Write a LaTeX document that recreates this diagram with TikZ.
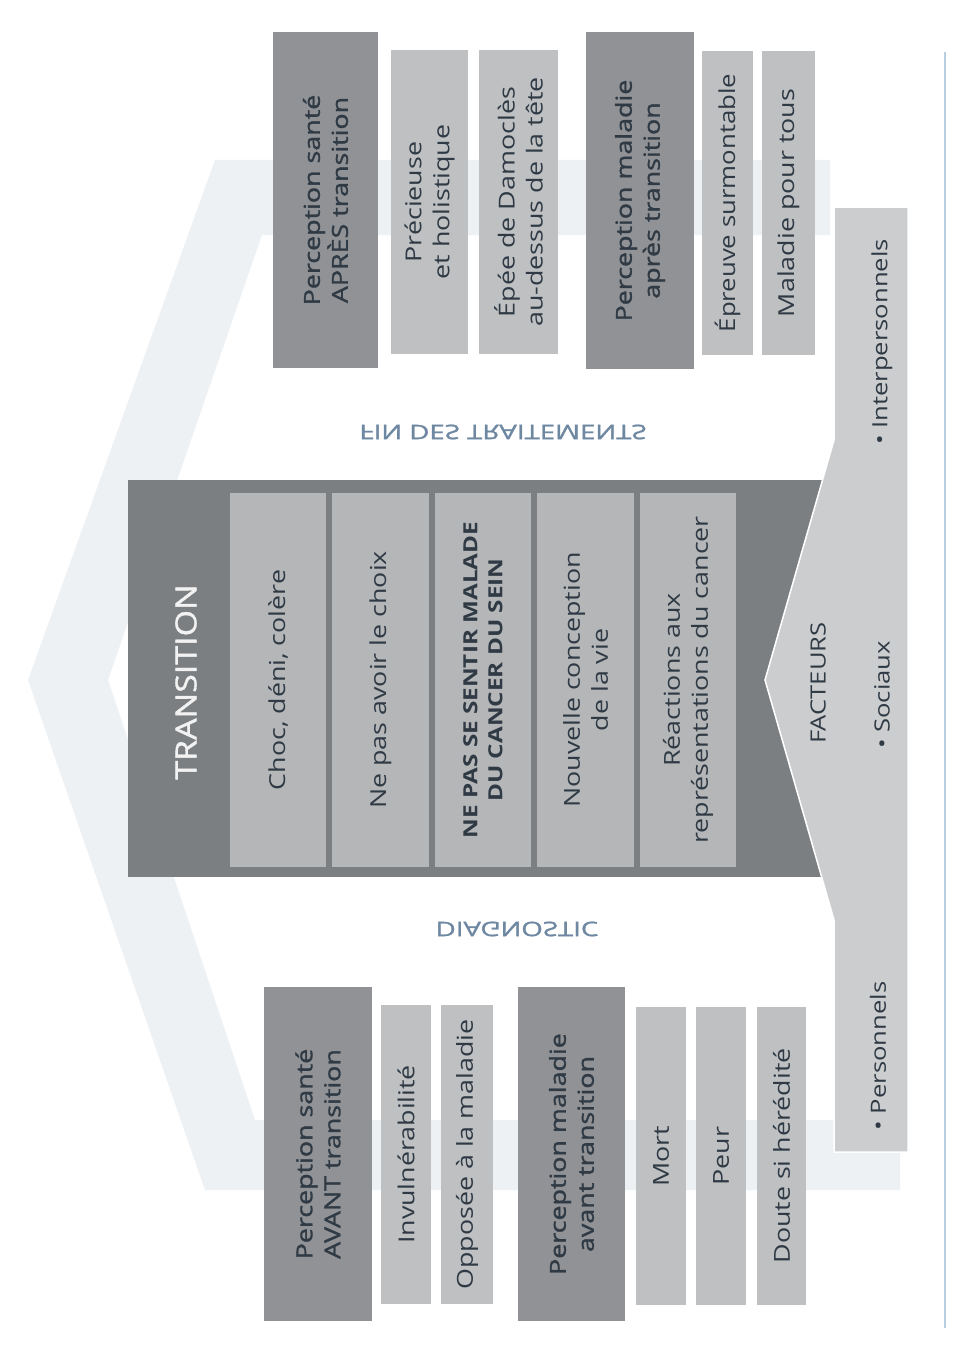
\documentclass[tikz,border=0pt]{standalone}
\usepackage{fontspec}
\setmainfont{Open Sans}
\newfontfamily\semib{Open Sans}[FakeBold=1.2]
\definecolor{darkc}{HTML}{909295}
\definecolor{lightc}{HTML}{BEC0C2}
\definecolor{transc}{HTML}{7C7F82}
\definecolor{innerc}{HTML}{B4B6B8}
\definecolor{factc}{HTML}{CBCDCF}
\definecolor{txtc}{HTML}{2F3A45}
\definecolor{faintc}{HTML}{EEF1F4}
\definecolor{flipc}{HTML}{6F88A2}
\definecolor{linec}{HTML}{B8CFE2}
\begin{document}
\begin{tikzpicture}[x=1pt,y=-1pt,
  darkbox/.style={fill=darkc, draw=none, inner sep=0pt},
  lightbox/.style={fill=lightc, draw=none, inner sep=0pt},
  innerbox/.style={fill=innerc, draw=none, inner sep=0pt},
  vtxt/.style={rotate=90, xscale=1.22, align=center, text=txtc, inner sep=0pt,
    font=\fontsize{22}{28}\selectfont},
  vtxtb/.style={vtxt, font=\fontsize{22}{28}\semib},
  fliptxt/.style={yscale=-1, xscale=1.38, text=flipc, inner sep=0pt,
    font=\fontsize{20}{24}\semib}]
\useasboundingbox (0,0) rectangle (974,1367);
\fill[white] (0,0) rectangle (974,1367);
% faint background chevron
\fill[faintc] (830,160) -- (215,160) -- (28,680) -- (205,1190) -- (900,1190)
  -- (900,1120) -- (255,1120) -- (108,680) -- (262,235) -- (830,235) -- cycle;
% right rule
\coordinate (rt) at (945,52);
\coordinate (rb) at (945,1328);
\draw[linec, line width=2pt] (rt) -- (rb);
% top group
\node[darkbox, minimum width=105, minimum height=336] (s1) at (325.5,200) {};
\node[lightbox, minimum width=77, minimum height=304] (s2) at (429.5,202) {};
\node[lightbox, minimum width=79, minimum height=304] (s3) at (518.5,202) {};
\node[darkbox, minimum width=108, minimum height=337] (s4) at (640,200.5) {};
\node[lightbox, minimum width=51, minimum height=304] (s5) at (727.5,203) {};
\node[lightbox, minimum width=53, minimum height=304] (s6) at (788.5,203) {};
\node[vtxtb] (s1t) at (s1.center) {Perception santé\\APRÈS transition};
\node[vtxt] (s2t) at (s2.center) {Précieuse\\et holistique};
\node[vtxt] (s3t) at (s3.center) {Épée de Damoclès\\au-dessus de la tête};
\node[vtxtb] (s4t) at (s4.center) {Perception maladie\\après transition};
\node[vtxt, xscale=0.96] (s5t) at (s5.center) {Épreuve surmontable};
\node[vtxt] (s6t) at (s6.center) {Maladie pour tous};
% bottom group
\node[darkbox, minimum width=108, minimum height=334] (b1) at (318,1154) {};
\node[lightbox, minimum width=50, minimum height=299] (b2) at (406,1154.5) {};
\node[lightbox, minimum width=52, minimum height=299] (b3) at (467,1154.5) {};
\node[darkbox, minimum width=107, minimum height=334] (b4) at (571.5,1154) {};
\node[lightbox, minimum width=50, minimum height=298] (b5) at (661,1156) {};
\node[lightbox, minimum width=50, minimum height=298] (b6) at (721,1156) {};
\node[lightbox, minimum width=49, minimum height=298] (b7) at (781.5,1156) {};
\node[vtxtb] (b1t) at (b1.center) {Perception santé\\AVANT transition};
\node[vtxt] (b2t) at (b2.center) {Invulnérabilité};
\node[vtxt] (b3t) at (b3.center) {Opposée à la maladie};
\node[vtxtb] (b4t) at (b4.center) {Perception maladie\\avant transition};
\node[vtxt] (b5t) at (b5.center) {Mort};
\node[vtxt] (b6t) at (b6.center) {Peur};
\node[vtxt] (b7t) at (b7.center) {Doute si hérédité};
% transition block
\node[fill=transc, inner sep=0pt, minimum width=698, minimum height=397] (tr) at (477,678.5) {};
\node[innerbox, minimum width=96, minimum height=374] (t1) at (278,680) {};
\node[innerbox, minimum width=97, minimum height=374] (t2) at (380.5,680) {};
\node[innerbox, minimum width=96, minimum height=374] (t3) at (483,680) {};
\node[innerbox, minimum width=97, minimum height=374] (t4) at (585.5,680) {};
\node[innerbox, minimum width=96, minimum height=374] (t5) at (688,680) {};
\node[vtxt, xscale=0.96, text=white!90!gray, font=\fontsize{29}{34}\semib] (trt) at (186,682) {TRANSITION};
\node[vtxt] (t1t) at (t1.center) {Choc, déni, colère};
\node[vtxt] (t2t) at (t2.center) {Ne pas avoir le choix};
\node[vtxt, xscale=1.02, font=\fontsize{19.5}{25}\bfseries] (t3t) at (t3.center) {NE PAS SE SENTIR MALADE\\DU CANCER DU SEIN};
\node[vtxt] (t4t) at (t4.center) {Nouvelle conception\\de la vie};
\node[vtxt] (t5t) at (t5.center) {Réactions aux\\représentations du cancer};
% facteurs band
\fill[factc, draw=white, line width=1.5pt] (834,207) -- (908,207) -- (908,1152) -- (834,1152)
  -- (834,920) -- (765,680) -- (834,440) -- cycle;
\node[vtxt, font=\fontsize{21}{26}\selectfont] (fa) at (818,683) {FACTEURS};
\node[vtxt, font=\fontsize{21}{26}\selectfont] (fs) at (882,695) {• Sociaux};
\node[vtxt, font=\fontsize{21}{26}\selectfont] (fi) at (882,342) {• Interpersonnels};
\node[vtxt, font=\fontsize{21}{26}\selectfont] (fp) at (878,1056) {• Personnels};
% mirrored labels
\node[fliptxt] (fin) at (503,432) {FIN DES TRAITEMENTS};
\node[fliptxt] (dia) at (517,929) {DIAGNOSTIC};
\end{tikzpicture}
\end{document}
